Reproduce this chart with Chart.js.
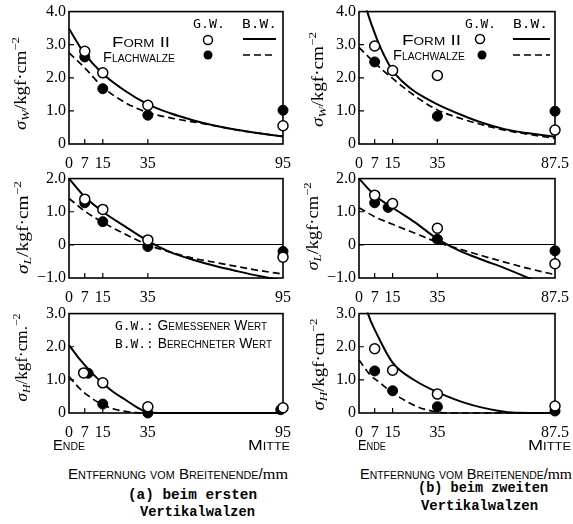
<!DOCTYPE html>
<html><head><meta charset="utf-8">
<script src="https://cdn.jsdelivr.net/npm/chart.js@4/dist/chart.umd.min.js"></script>
<style>
html,body{margin:0;padding:0;background:#fff;}
body{width:573px;height:524px;position:relative;overflow:hidden;}
canvas{position:absolute;}
.t{position:absolute;white-space:nowrap;color:#000;line-height:1;}
.sc{font-family:"Liberation Sans",sans-serif;font-variant:small-caps;font-size:14px;}
.gw{font-family:"DejaVu Sans Mono",monospace;font-size:13px;}
.cap{font-family:"Liberation Mono",monospace;font-size:14px;font-weight:bold;}
.yt{font-family:"Liberation Serif",serif;font-size:16px;}
.yt sub{font-size:11px;vertical-align:-3px;}
.yt sup{font-size:11px;vertical-align:7px;}
.mm{font-family:"Liberation Serif",serif;font-variant:normal;font-size:15px;}
svg{position:absolute;left:0;top:0;}
</style></head><body>
<script>
// ---------- tick labels ----------
const xTicksA = [0, 7, 15, 35, 95];
const xTicksB = [0, 7, 15, 35, 87.5];

// ---------- (a) σW ----------
const a1OpenX = [7, 15, 35, 95];
const a1OpenY = [2.8, 2.15, 1.17, 0.55];
const a1FillX = [7, 15, 35, 95];
const a1FillY = [2.63, 1.67, 0.87, 1.02];
const a1SolidX = [0, 7, 15, 25, 35, 45, 55, 65, 75, 85, 95];
const a1SolidY = [3.48, 2.72, 2.12, 1.6, 1.2, 0.93, 0.72, 0.55, 0.42, 0.32, 0.23];
const a1DashX = [0, 7, 15, 25, 35, 45, 55, 65, 75, 85, 95];
const a1DashY = [2.75, 2.3, 1.72, 1.25, 0.95, 0.79, 0.67, 0.55, 0.42, 0.32, 0.23];

// ---------- (b) σW ----------
const b1OpenX = [7, 15, 35, 87.5];
const b1OpenY = [2.96, 2.22, 2.07, 0.42];
const b1FillX = [7, 35, 87.5];
const b1FillY = [2.48, 0.84, 0.99];
const b1SolidX = [0, 3.7, 7, 10, 15, 20, 25, 30, 35, 45, 55, 65, 75, 87.5];
const b1SolidY = [5.0, 4.0, 3.35, 2.85, 2.22, 1.85, 1.58, 1.38, 1.2, 0.9, 0.64, 0.45, 0.33, 0.22];
const b1DashX = [0, 7, 15, 25, 35, 45, 55, 65, 75, 87.5];
const b1DashY = [2.92, 2.45, 1.98, 1.45, 1.03, 0.78, 0.58, 0.42, 0.3, 0.17];

// ---------- (a) σL ----------
const a2OpenX = [7, 15, 35, 95];
const a2OpenY = [1.38, 1.07, 0.15, -0.37];
const a2FillX = [7, 15, 35, 95];
const a2FillY = [1.27, 0.7, -0.05, -0.2];
const a2SolidX = [0, 7, 15, 25, 35, 45, 55, 65, 75, 85, 95];
const a2SolidY = [2.0, 1.45, 1.0, 0.55, 0.12, -0.22, -0.45, -0.64, -0.8, -0.95, -1.08];
const a2DashX = [0, 7, 15, 25, 35, 45, 55, 65, 75, 85, 95];
const a2DashY = [1.4, 1.02, 0.68, 0.32, 0.0, -0.22, -0.4, -0.53, -0.66, -0.78, -0.88];

// ---------- (b) σL ----------
const b2OpenX = [7, 15, 35, 87.5];
const b2OpenY = [1.5, 1.25, 0.5, -0.57];
const b2FillX = [7, 13, 35, 87.5];
const b2FillY = [1.27, 1.13, 0.17, -0.18];
const b2SolidX = [0, 7, 15, 25, 35, 45, 55, 65, 75, 87.5];
const b2SolidY = [2.0, 1.5, 1.12, 0.68, 0.18, -0.18, -0.45, -0.7, -0.98, -1.35];
const b2DashX = [0, 7, 15, 25, 35, 45, 55, 65, 75, 87.5];
const b2DashY = [1.12, 0.85, 0.62, 0.35, 0.08, -0.13, -0.33, -0.52, -0.7, -0.9];

// ---------- (a) σH ----------
const a3OpenX = [6.5, 15, 35, 95];
const a3OpenY = [1.21, 0.91, 0.19, 0.16];
const a3FillX = [8.5, 15, 35, 94];
const a3FillY = [1.2, 0.27, 0.0, 0.1];
const a3SolidX = [0, 5, 10, 15, 20, 25, 30, 35, 40, 95];
const a3SolidY = [2.05, 1.6, 1.22, 0.9, 0.62, 0.4, 0.18, 0.02, 0, 0];
const a3DashX = [0, 5, 10, 15, 20, 25, 30, 35, 95];
const a3DashY = [1.1, 0.72, 0.45, 0.25, 0.12, 0.05, 0.01, 0, 0];

// ---------- (b) σH ----------
const b3OpenX = [7, 15, 35, 87.5];
const b3OpenY = [1.94, 1.29, 0.57, 0.21];
const b3FillX = [7, 15, 35, 87.5];
const b3FillY = [1.27, 0.67, 0.19, 0.06];
const b3SolidX = [0, 4, 8, 15, 25, 35, 48, 62, 70, 87.5];
const b3SolidY = [4.1, 3.0, 2.38, 1.52, 0.98, 0.63, 0.29, 0.07, 0.01, 0];
const b3DashX = [0, 5, 10, 15, 20, 25, 30, 35, 40, 87.5];
const b3DashY = [1.6, 1.15, 0.88, 0.6, 0.4, 0.22, 0.1, 0.03, 0, 0];

const pts = (xs, ys) => xs.map((x, i) => ({x, y: ys[i]}));

const framePlugin = {
  id: 'frame',
  beforeDatasetsDraw(chart) {
    const {ctx, chartArea: a, scales: {x, y}} = chart;
    ctx.save();
    ctx.strokeStyle = '#000';
    ctx.lineWidth = 1.6;
    ctx.strokeRect(a.left, a.top, a.right - a.left, a.bottom - a.top);
    ctx.lineWidth = 1.2;
    ctx.beginPath();
    y.ticks.forEach(t => {
      if (t.value > y.min && t.value < y.max) {
        const py = y.getPixelForValue(t.value);
        ctx.moveTo(a.left, py); ctx.lineTo(a.left + 5, py);
      }
    });
    x.ticks.forEach(t => {
      if (t.value > x.min && t.value < x.max) {
        const px = x.getPixelForValue(t.value);
        ctx.moveTo(px, a.bottom); ctx.lineTo(px, a.bottom - 5);
      }
    });
    ctx.stroke();
    ctx.restore();
  }
};

function makePanel(box, yMin, yMax, xMax, xTicks, s) {
  const [L, T, R, B] = box;
  const padL = 45, padT = 12, padR = 22, padB = 24;
  const c = document.createElement('canvas');
  c.width = R - L + padL + padR;
  c.height = B - T + padT + padB;
  c.style.left = (L - padL) + 'px';
  c.style.top = (T - padT) + 'px';
  document.body.appendChild(c);
  const tickFont = {family: '"Liberation Serif", serif', size: 16};
  new Chart(c, {
    type: 'line',
    data: {datasets: [
      {data: pts(s.ox, s.oy), showLine: false, pointRadius: 5, pointBackgroundColor: '#fff', pointBorderColor: '#000', pointBorderWidth: 1.5, clip: false},
      {data: pts(s.fx, s.fy), showLine: false, pointRadius: 5, pointBackgroundColor: '#000', pointBorderColor: '#000', pointBorderWidth: 1, clip: false},
      {data: pts(s.sx, s.sy), borderColor: '#000', borderWidth: 2, pointRadius: 0, cubicInterpolationMode: 'monotone', clip: 1, fill: false},
      {data: pts(s.dx, s.dy), borderColor: '#000', borderWidth: 1.7, borderDash: [7, 4], pointRadius: 0, cubicInterpolationMode: 'monotone', clip: 1, fill: false}
    ]},
    options: {
      responsive: false, animation: false, events: [],
      layout: {padding: {left: 0, top: padT, right: padR, bottom: 0}},
      plugins: {legend: {display: false}, tooltip: {enabled: false}},
      scales: {
        x: {
          type: 'linear', min: 0, max: xMax,
          afterFit: sc => { sc.height = padB; },
          afterBuildTicks: sc => { sc.ticks = xTicks.map(v => ({value: v})); },
          ticks: {autoSkip: false, maxRotation: 0, padding: 2, color: '#000', font: tickFont, callback: v => String(v)},
          grid: {display: false}, border: {display: false}
        },
        y: {
          type: 'linear', min: yMin, max: yMax,
          afterFit: sc => { sc.width = padL; },
          ticks: {stepSize: 1, padding: 3, color: '#000', font: tickFont,
            callback: v => v === 0 ? '0' : (v < 0 ? '\u2212' + Math.abs(v).toFixed(1) : v.toFixed(1))},
          grid: {drawTicks: false, lineWidth: 1,
            color: ctx => (ctx.tick && ctx.tick.value === 0 && yMin < 0) ? '#000' : 'rgba(0,0,0,0)'},
          border: {display: false}
        }
      }
    },
    plugins: [framePlugin]
  });
}

makePanel([69, 11, 283, 144], 0, 4, 95, xTicksA, {ox: a1OpenX, oy: a1OpenY, fx: a1FillX, fy: a1FillY, sx: a1SolidX, sy: a1SolidY, dx: a1DashX, dy: a1DashY});
makePanel([359, 11, 555, 144], 0, 4, 87.5, xTicksB, {ox: b1OpenX, oy: b1OpenY, fx: b1FillX, fy: b1FillY, sx: b1SolidX, sy: b1SolidY, dx: b1DashX, dy: b1DashY});
makePanel([69, 178, 283, 278], -1, 2, 95, xTicksA, {ox: a2OpenX, oy: a2OpenY, fx: a2FillX, fy: a2FillY, sx: a2SolidX, sy: a2SolidY, dx: a2DashX, dy: a2DashY});
makePanel([359, 178, 555, 278], -1, 2, 87.5, xTicksB, {ox: b2OpenX, oy: b2OpenY, fx: b2FillX, fy: b2FillY, sx: b2SolidX, sy: b2SolidY, dx: b2DashX, dy: b2DashY});
makePanel([69, 313, 283, 413], 0, 3, 95, xTicksA, {ox: a3OpenX, oy: a3OpenY, fx: a3FillX, fy: a3FillY, sx: a3SolidX, sy: a3SolidY, dx: a3DashX, dy: a3DashY});
makePanel([359, 313, 555, 413], 0, 3, 87.5, xTicksB, {ox: b3OpenX, oy: b3OpenY, fx: b3FillX, fy: b3FillY, sx: b3SolidX, sy: b3SolidY, dx: b3DashX, dy: b3DashY});

// ---------- text ----------
function place(html, cls, x, y, w) {
  const d = document.createElement('div');
  d.className = 't ' + cls;
  d.innerHTML = html;
  document.body.appendChild(d);
  const r = d.getBoundingClientRect();
  const sx = w ? w / r.width : 1;
  d.style.left = x + 'px';
  d.style.top = (y - r.height / 2) + 'px';
  d.style.transformOrigin = '0 50%';
  d.style.transform = 'scaleX(' + sx + ')';
}
function placeV(html, cx, cy, len) {
  const d = document.createElement('div');
  d.className = 't yt';
  d.innerHTML = html;
  document.body.appendChild(d);
  const r = d.getBoundingClientRect();
  d.style.left = (cx - r.width / 2) + 'px';
  d.style.top = (cy - r.height / 2) + 'px';
  d.style.transformOrigin = '50% 50%';
  d.style.transform = 'rotate(-90deg) scaleX(' + (len / r.width) + ')';
}

const yTitle = s => '<i>\u03c3</i><sub><i>' + s + '</i></sub>/kgf\u00b7cm<sup>\u22122</sup>';
placeV(yTitle('W'), 21, 83, 93);
placeV(yTitle('L'), 22, 227, 93);
placeV('<i>\u03c3</i><sub><i>H</i></sub>/kgf\u00b7cm.<sup>\u22122</sup>', 21, 357, 88);
placeV(yTitle('W'), 318, 79, 95);
placeV(yTitle('L'), 312, 226, 88);
placeV(yTitle('H'), 318, 364, 92);

// legends (top panels)
place('G.W.', 'gw', 193, 23, 32);
place('B.W.', 'gw', 242, 23, 35);
place('Form II', 'sc', 112, 42, 58);
place('Flachwalze', 'sc', 103, 57, 72);
place('G.W.', 'gw', 465, 23, 31);
place('B.W.', 'gw', 513, 23, 35);
place('Form II', 'sc', 402, 39.5, 59);
place('Flachwalze', 'sc', 393, 55, 72);

// definitions (bottom-left panel)
place('<span class="gw">G.W.:</span> Gemessener Wert', 'sc', 115, 325, 152);
place('<span class="gw">B.W.:</span> Berechneter Wert', 'sc', 115, 343, 157);

// axis end labels and axis titles
place('Ende', 'sc', 53, 445, 32);
place('Mitte', 'sc', 248, 445, 42);
place('Ende', 'sc', 358, 445, 28);
place('Mitte', 'sc', 528, 445, 43);
place('Entfernung vom Breitenende/<span class="mm">mm</span>', 'sc', 68, 474, 220);
place('Entfernung vom Breitenende/<span class="mm">mm</span>', 'sc', 360, 474, 212);

// captions
place('(a) beim ersten', 'cap', 128, 495, 129);
place('Vertikalwalzen', 'cap', 140, 512, 115);
place('(b) beim zweiten', 'cap', 418, 488, 130);
place('Vertikalwalzen', 'cap', 421, 506, 117);

// legend keys
const svgNS = 'http://www.w3.org/2000/svg';
const svg = document.createElementNS(svgNS, 'svg');
svg.setAttribute('width', 573); svg.setAttribute('height', 524);
svg.innerHTML =
  '<circle cx="208" cy="40" r="4.5" fill="#fff" stroke="#000" stroke-width="1.5"/>' +
  '<circle cx="208" cy="55" r="4.5" fill="#000"/>' +
  '<line x1="243" y1="39" x2="276" y2="39" stroke="#000" stroke-width="2"/>' +
  '<line x1="243" y1="55" x2="276" y2="55" stroke="#000" stroke-width="1.7" stroke-dasharray="7 4"/>' +
  '<circle cx="480" cy="39" r="4.5" fill="#fff" stroke="#000" stroke-width="1.5"/>' +
  '<circle cx="482" cy="55" r="4.5" fill="#000"/>' +
  '<line x1="513" y1="39" x2="550" y2="39" stroke="#000" stroke-width="2"/>' +
  '<line x1="513" y1="55" x2="550" y2="55" stroke="#000" stroke-width="1.7" stroke-dasharray="7 4"/>';
document.body.appendChild(svg);
</script>
</body></html>
